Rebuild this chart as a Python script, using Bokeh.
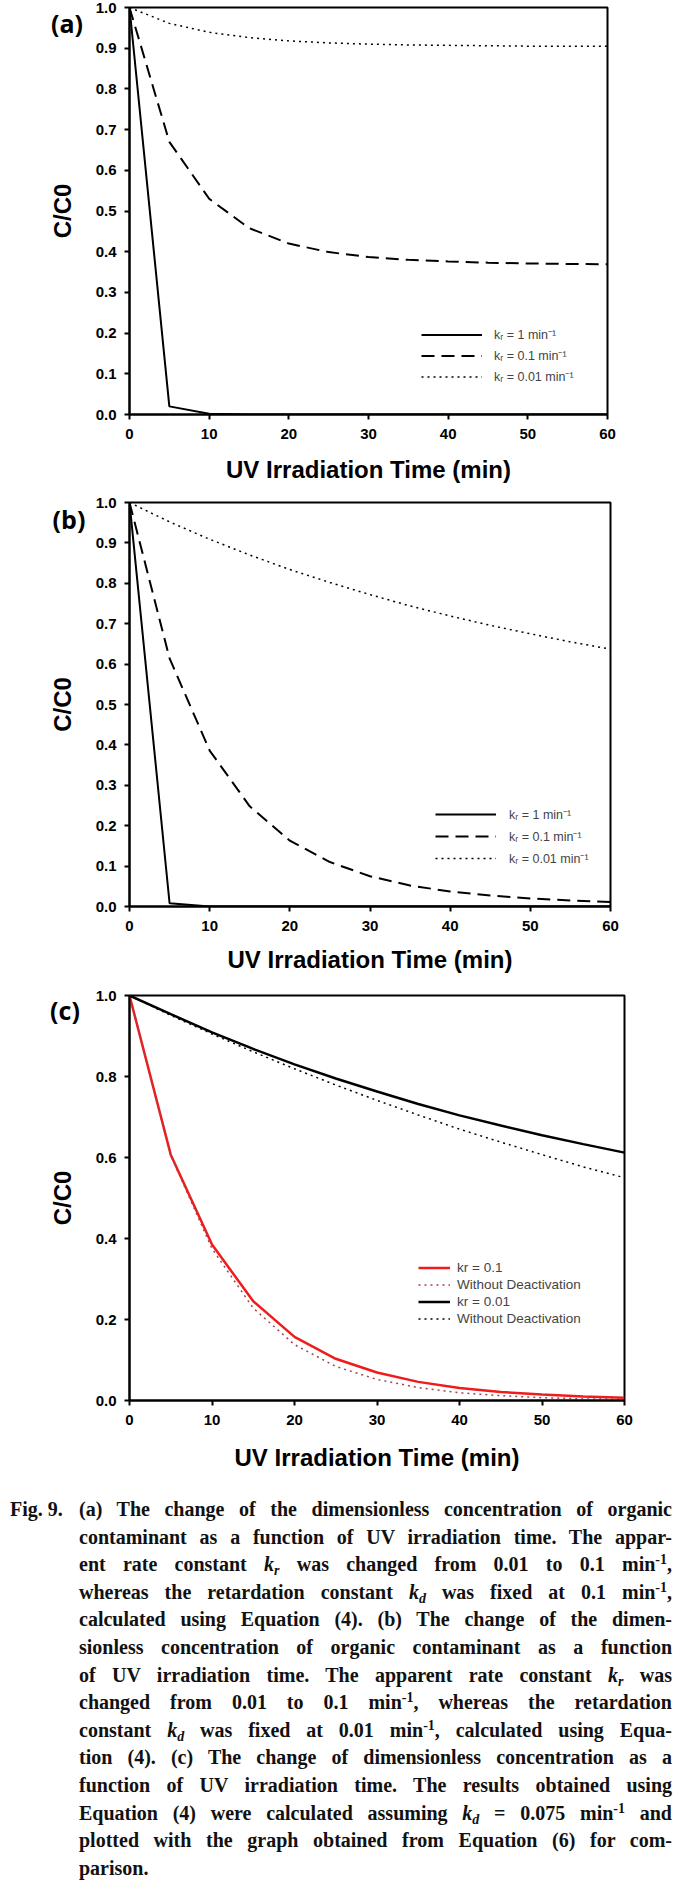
from bokeh.plotting import figure
from bokeh.models import (Range1d, FixedTicker, PrintfTickFormatter, Legend,
                          LegendItem, Div)
from bokeh.layouts import column
from bokeh.embed import file_html
from bokeh.resources import INLINE

# ---------------- data ----------------
time_min = [0, 5, 10, 15, 20, 25, 30, 35, 40, 45, 50, 55, 60]

# (a) kd = 0.1 min-1
a_kr_1 = [1.0, 0.020, 0.002, 0.0, 0.0, 0.0, 0.0, 0.0, 0.0, 0.0, 0.0, 0.0, 0.0]
a_kr_01 = [1.0, 0.670, 0.530, 0.458, 0.420, 0.399, 0.387, 0.380, 0.376, 0.373, 0.371, 0.370, 0.369]
a_kr_001 = [1.0, 0.961, 0.939, 0.926, 0.918, 0.913, 0.910, 0.908, 0.907, 0.906, 0.905, 0.905, 0.905]

# (b) kd = 0.01 min-1
b_kr_1 = [1.0, 0.008, 0.0, 0.0, 0.0, 0.0, 0.0, 0.0, 0.0, 0.0, 0.0, 0.0, 0.0]
b_kr_01 = [1.0, 0.614, 0.386, 0.248, 0.163, 0.110, 0.075, 0.052, 0.037, 0.027, 0.020, 0.015, 0.011]
b_kr_001 = [1.0, 0.952, 0.909, 0.870, 0.834, 0.802, 0.772, 0.744, 0.719, 0.696, 0.675, 0.655, 0.637]

# (c)
c_kr_01 = [1.0, 0.607, 0.385, 0.245, 0.157, 0.103, 0.069, 0.046, 0.031, 0.021, 0.015, 0.010, 0.007]
c_kr_01_nodeact = [1.0, 0.605, 0.375, 0.228, 0.138, 0.084, 0.052, 0.032, 0.019, 0.012, 0.007, 0.004, 0.003]
c_kr_001 = [1.0, 0.954, 0.909, 0.868, 0.830, 0.795, 0.763, 0.732, 0.704, 0.679, 0.655, 0.633, 0.612]
c_kr_001_nodeact = [1.0, 0.951, 0.905, 0.861, 0.819, 0.779, 0.741, 0.705, 0.670, 0.638, 0.607, 0.577, 0.550]

x_ticks = [0, 10, 20, 30, 40, 50, 60]
y_ticks_ab = [0.0, 0.1, 0.2, 0.3, 0.4, 0.5, 0.6, 0.7, 0.8, 0.9, 1.0]
y_ticks_c = [0.0, 0.2, 0.4, 0.6, 0.8, 1.0]

legend_ab = ["k\u1d63 = 1 min\u207b\u00b9", "k\u1d63 = 0.1 min\u207b\u00b9", "k\u1d63 = 0.01 min\u207b\u00b9"]
legend_c = ["kr = 0.1", "Without Deactivation", "kr = 0.01", "Without Deactivation"]
panel_tags = ["(a)", "(b)", "(c)"]

AX_FONT = "Liberation Sans"
DOT = "2 4"
DASH = "13 7"


def make_panel(fw, fh, bl, bt, bb, yticks, xlab_standoff):
    p = figure(frame_width=fw, frame_height=fh,
               min_border_left=bl, min_border_right=20,
               min_border_top=bt, min_border_bottom=bb,
               x_range=Range1d(0, 60), y_range=Range1d(0, 1.0),
               output_backend="svg", toolbar_location=None)
    p.grid.visible = False
    p.outline_line_color = "black"
    p.outline_line_width = 2
    p.outline_line_alpha = 1
    p.background_fill_color = "white"
    p.border_fill_alpha = 0

    p.xaxis.ticker = FixedTicker(ticks=x_ticks)
    p.yaxis.ticker = FixedTicker(ticks=yticks)
    p.yaxis.formatter = PrintfTickFormatter(format="%.1f")
    for ax in (p.xaxis[0], p.yaxis[0]):
        ax.axis_line_color = "black"
        ax.axis_line_width = 2
        ax.major_tick_line_color = "black"
        ax.major_tick_line_width = 2
        ax.major_tick_out = 5
        ax.major_tick_in = 0
        ax.minor_tick_line_color = None
        ax.major_label_text_font = AX_FONT
        ax.major_label_text_font_style = "bold"
        ax.major_label_text_font_size = "15px"
        ax.major_label_text_color = "black"
        ax.axis_label_text_font = AX_FONT
        ax.axis_label_text_font_style = "bold"
        ax.axis_label_text_font_size = "24px"
        ax.axis_label_text_color = "black"
    p.xaxis.major_label_standoff = 9
    p.yaxis.major_label_standoff = 8
    p.xaxis.axis_label = "UV Irradiation Time (min)"
    p.xaxis.axis_label_standoff = xlab_standoff
    p.yaxis.axis_label = "C/C0"
    p.yaxis.axis_label_standoff = 17
    return p


# ---------------- panel (a) ----------------
pa = make_panel(478, 407, 129, 7, 78, y_ticks_ab, 14)
ra1 = pa.line(time_min, a_kr_1, line_color="black", line_width=2)
ra2 = pa.line(time_min, a_kr_01, line_color="black", line_width=2, line_dash=DASH)
ra3 = pa.line(time_min, a_kr_001, line_color="black", line_width=1.5, line_dash=DOT)
lega = Legend(items=[LegendItem(label=legend_ab[0], renderers=[ra1]),
                     LegendItem(label=legend_ab[1], renderers=[ra2]),
                     LegendItem(label=legend_ab[2], renderers=[ra3])],
              location=(292, 27), padding=0, margin=0, spacing=0,
              glyph_width=61, glyph_height=21, label_height=21, label_standoff=12,
              border_line_color=None, background_fill_alpha=0,
              label_text_font=AX_FONT, label_text_font_size="12.5px")
pa.add_layout(lega, "center")

# ---------------- panel (b) ----------------
pb = make_panel(481, 404, 129, 10, 79, y_ticks_ab, 12)
rb1 = pb.line(time_min, b_kr_1, line_color="black", line_width=2)
rb2 = pb.line(time_min, b_kr_01, line_color="black", line_width=2, line_dash=DASH)
rb3 = pb.line(time_min, b_kr_001, line_color="black", line_width=1.5, line_dash=DOT)
legb = Legend(items=[LegendItem(label=legend_ab[0], renderers=[rb1]),
                     LegendItem(label=legend_ab[1], renderers=[rb2]),
                     LegendItem(label=legend_ab[2], renderers=[rb3])],
              location=(306, 37), padding=0, margin=0, spacing=0,
              glyph_width=61, glyph_height=22, label_height=22, label_standoff=13,
              border_line_color=None, background_fill_alpha=0,
              label_text_font=AX_FONT, label_text_font_size="12.5px")
pb.add_layout(legb, "center")

# ---------------- panel (c) ----------------
pc = make_panel(495, 405, 124, 10, 82, y_ticks_c, 16)
rc1 = pc.line(time_min, c_kr_01, line_color="#ee1c1c", line_width=2.5)
rc2 = pc.line(time_min, c_kr_01_nodeact, line_color="#a8404a", line_width=1.5, line_dash=DOT)
rc3 = pc.line(time_min, c_kr_001, line_color="black", line_width=2.5)
rc4 = pc.line(time_min, c_kr_001_nodeact, line_color="black", line_width=1.5, line_dash=DOT)
legc = Legend(items=[LegendItem(label=legend_c[0], renderers=[rc1]),
                     LegendItem(label=legend_c[1], renderers=[rc2]),
                     LegendItem(label=legend_c[2], renderers=[rc3]),
                     LegendItem(label=legend_c[3], renderers=[rc4])],
              location=(289, 73), padding=0, margin=0, spacing=0,
              glyph_width=32, glyph_height=17, label_height=17, label_standoff=7,
              border_line_color=None, background_fill_alpha=0,
              label_text_font=AX_FONT, label_text_font_size="13.5px")
pc.add_layout(legc, "center")

# ---------------- caption (+ panel tags overlaid via CSS) ----------------
SUB = '<sub style="font-size:0.7em;line-height:0;vertical-align:-0.25em">'
SUP = '<sup style="font-size:0.7em;line-height:0;vertical-align:0.5em">'
kr = f"<i>k{SUB}r</sub></i>"
kd = f"<i>k{SUB}d</sub></i>"
mi = f"min{SUP}-1</sup>"
caption_lines = [
    "(a) The change of the dimensionless concentration of organic",
    "contaminant as a function of UV irradiation time. The appar-",
    f"ent rate constant {kr} was changed from 0.01 to 0.1 {mi},",
    f"whereas the retardation constant {kd} was fixed at 0.1 {mi},",
    "calculated using Equation (4). (b) The change of the dimen-",
    "sionless concentration of organic contaminant as a function",
    f"of UV irradiation time. The apparent rate constant {kr} was",
    f"changed from 0.01 to 0.1 {mi}, whereas the retardation",
    f"constant {kd} was fixed at 0.01 {mi}, calculated using Equa-",
    "tion (4). (c) The change of dimensionless concentration as a",
    "function of UV irradiation time. The results obtained using",
    f"Equation (4) were calculated assuming {kd} = 0.075 {mi} and",
    "plotted with the graph obtained from Equation (6) for com-",
    "parison.",
]
TAG = ('<span style="position:absolute;left:{l}px;top:{t}px;transform:translate(-50%,-50%);'
       'font-family:\'Open Sans\',sans-serif;font-weight:bold;font-size:25px;line-height:1;'
       'color:black;white-space:nowrap">{s}</span>')
tags_html = (TAG.format(l=57, t=-1464, s=panel_tags[0])
             + TAG.format(l=59, t=-968, s=panel_tags[1])
             + TAG.format(l=55, t=-477, s=panel_tags[2]))
rows = []
for i, ln in enumerate(caption_lines):
    last = i == len(caption_lines) - 1
    align = "left" if last else "justify"
    prefix = ('<span style="position:absolute;left:-69px;top:0">Fig. 9.</span>'
              if i == 0 else "")
    rows.append(
        f'<div style="position:relative;margin-left:69px;white-space:nowrap;'
        f'text-align:{align};text-align-last:{align};height:27.6px;line-height:27.6px">'
        f'{prefix}{ln}</div>')
html = ('<div style="position:relative;font-family:\'Liberation Serif\',serif;font-weight:bold;'
        'font-size:20px;color:#111;margin-left:5px;width:662px;padding-top:9px;">'
        + tags_html + "".join(rows) + "</div>")
cap = Div(text=html, width=669, height=400, styles={"overflow": "visible"})

layout = column(pa, pb, pc, cap, spacing=0)

with open("out.html", "w") as f:
    f.write(file_html(layout, INLINE))
